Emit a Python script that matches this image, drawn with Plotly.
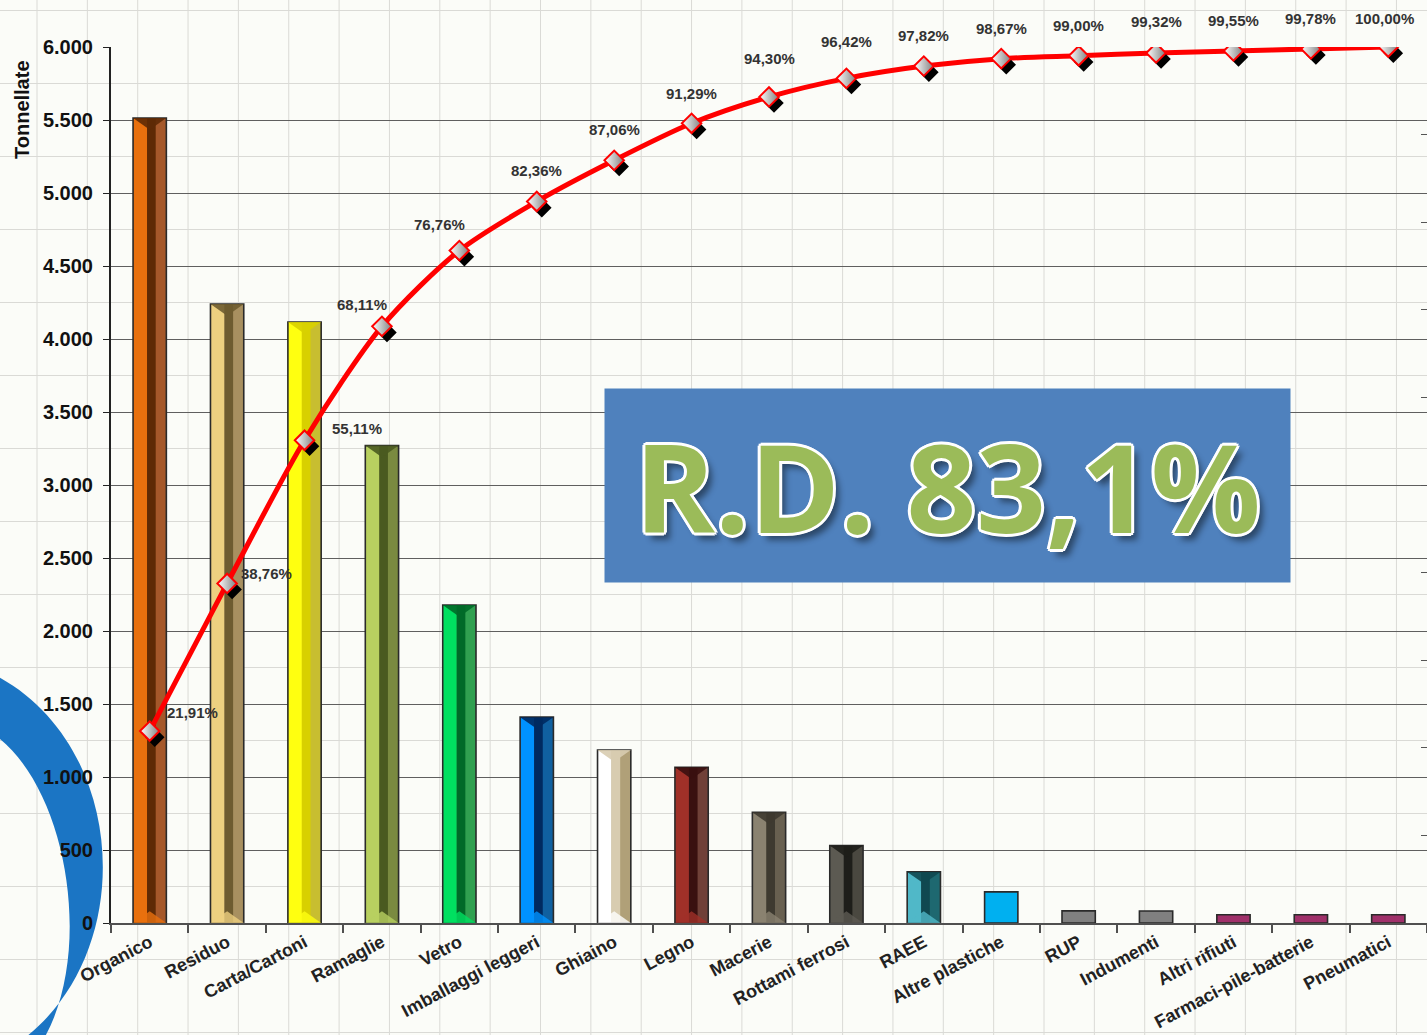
import plotly.graph_objects as go

# ---------------- data ----------------
categories = ["Organico", "Residuo", "Carta/Cartoni", "Ramaglie", "Vetro",
              "Imballaggi leggeri", "Ghiaino", "Legno", "Macerie", "Rottami ferrosi",
              "RAEE", "Altre plastiche", "RUP", "Indumenti", "Altri rifiuti",
              "Farmaci-pile-batterie", "Pneumatici"]
tonnellate = [5514, 4240, 4116, 3270, 2178, 1410, 1185, 1066, 758, 530,
              350, 213, 83, 82, 57, 57, 56]
cum_pct = [21.91, 38.76, 55.11, 68.11, 76.76, 82.36, 87.06, 91.29, 94.30,
           96.42, 97.82, 98.67, 99.00, 99.32, 99.55, 99.78, 100.00]
y_title = "Tonnellate"
rd_label = "R.D. 83,1%"

# ---------------- styles ----------------
col_light = ["#E8700E", "#EDD080", "#FFFF10", "#B8D060", "#00E060", "#0092FF",
             "#FFFFFF", "#A03028", "#8A8270", "#5C5A52", "#50B8C8", "#00B0F0",
             "#808080", "#808080", "#A0306A", "#A0306A", "#A0306A"]
col_dark = ["#5E2A05", "#6E5C30", "#D8D000", "#4A5A20", "#006A28", "#002A60",
            "#D8CCB0", "#3A1010", "#3E3A30", "#1E1E1A", "#104850", "#00B0F0",
            "#808080", "#808080", "#A0306A", "#A0306A", "#A0306A"]
col_right = ["#A5582A", "#A89060", "#C8BE30", "#7A8A40", "#30A050", "#1060A0",
             "#B0A078", "#704038", "#686050", "#4A4840", "#1E6870", "#00B0F0",
             "#808080", "#808080", "#A0306A", "#A0306A", "#A0306A"]
bevel = [True] * 11 + [False] * 6

W, H = 1427, 1035
ML, MR, MT, MB = 111, 0, 47, 112
PW, PH = W - ML - MR, H - MT - MB
YMAX = 6000
BW = 0.43
BEV = 80  # bevel depth in data units


def px(X):
    return (X - ML) / PW


def py(Y):
    return (H - MB - Y) / PH


fig = go.Figure()
idx = list(range(len(categories)))

# base bar (right face colour)
fig.add_trace(go.Bar(x=categories, y=tonnellate, width=BW, offset=-BW / 2,
                     marker=dict(color=col_right, line=dict(width=0)),
                     hoverinfo="skip", showlegend=False))
# light left face
fig.add_trace(go.Bar(x=categories, y=tonnellate, width=BW * 0.42, offset=-BW / 2,
                     marker=dict(color=col_light, line=dict(width=0)),
                     hoverinfo="skip", showlegend=False))
# dark stripe
fig.add_trace(go.Bar(x=categories, y=tonnellate, width=BW * 0.26, offset=-BW / 2 + BW * 0.42,
                     marker=dict(color=col_dark, line=dict(width=0)),
                     hoverinfo="skip", showlegend=False))
# outline
fig.add_trace(go.Bar(x=categories, y=tonnellate, width=BW, offset=-BW / 2,
                     marker=dict(color="rgba(0,0,0,0)", line=dict(width=1.6, color="#2a2a2a")),
                     hovertemplate="%{x}: %{y}<extra></extra>", showlegend=False))

# cumulative line
fig.add_trace(go.Scatter(x=idx, y=cum_pct, xaxis="x2", yaxis="y2", mode="lines",
                         line=dict(color="#FF0000", width=5, shape="spline", smoothing=0.8),
                         hoverinfo="skip", showlegend=False))
# marker shadows
fig.add_trace(go.Scatter(x=[i + 0.065 for i in idx], y=[v - 0.7 for v in cum_pct],
                         xaxis="x2", yaxis="y2", mode="markers",
                         marker=dict(symbol="diamond", size=15, color="#000000"),
                         hoverinfo="skip", showlegend=False))
# markers
fig.add_trace(go.Scatter(x=idx, y=cum_pct, xaxis="x2", yaxis="y2", mode="markers",
                         marker=dict(symbol="diamond", size=15, color="#FFFFFF",
                                     gradient=dict(type="horizontal", color="#808080"),
                                     line=dict(color="#FF0000", width=2)),
                         hovertemplate="%{y:.2f}%<extra></extra>", showlegend=False))

shapes = []
# background paper grid
grid_col = "#DADAD6"
k = 0
while 37 + 50.35 * k <= W:
    X = 37 + 50.35 * k
    shapes.append(dict(type="line", xref="paper", yref="paper", x0=px(X), x1=px(X),
                       y0=py(H + 5), y1=py(-5), line=dict(color=grid_col, width=1), layer="below"))
    k += 1
v = -750
while v <= 6250:
    shapes.append(dict(type="line", xref="paper", yref="paper", x0=px(-5), x1=px(W + 5),
                       y0=v / YMAX, y1=v / YMAX, line=dict(color=grid_col, width=1), layer="below"))
    v += 500

# blue swoosh decoration
pts_outer = [(-5, 675), (130, 745), (140, 960), (15, 1045)]
pts_inner = [(40, 1045), (95, 960), (70, 790), (-5, 735)]


def P(p):
    return f"{px(p[0]):.5f},{py(p[1]):.5f}"


path = (f"M{P(pts_outer[0])} C{P(pts_outer[1])} {P(pts_outer[2])} {P(pts_outer[3])} "
        f"L{P(pts_inner[0])} C{P(pts_inner[1])} {P(pts_inner[2])} {P(pts_inner[3])} Z")
shapes.append(dict(type="path", xref="paper", yref="paper", path=path,
                   fillcolor="#1B75C4", line=dict(width=0), layer="below"))

# bevel triangles on top / bottom of 3D bars
for i, val in enumerate(tonnellate):
    if not bevel[i]:
        continue
    d = min(BEV, val * 0.25)
    top = f"M{i - BW / 2},{val} L{i + BW / 2},{val} L{i},{val - d} Z"
    bot = f"M{i - BW / 2},0 L{i + BW / 2},0 L{i},{d} Z"
    shapes.append(dict(type="path", xref="x2", yref="y", path=top,
                       fillcolor=col_dark[i], line=dict(width=0), opacity=0.9, layer="above"))
    shapes.append(dict(type="path", xref="x2", yref="y", path=bot,
                       fillcolor=col_light[i], line=dict(width=0), opacity=0.8, layer="above"))

# percent labels
lab_dx = [15, 12, 25, -20, -20] + [0] * 11 + [-4]
lab_dy = [19, 10, 12, 22, 26, 31, 31, 30, 38, 37, 31, 30, 30, 31, 30, 30, 29]
lab_anchor = ["left", "left", "left"] + ["center"] * 14
annotations = []
for i, c in enumerate(cum_pct):
    annotations.append(dict(x=i, y=c, xref="x2", yref="y2", showarrow=False,
                            text=f"{c:.2f}".replace(".", ",") + "%",
                            xanchor=lab_anchor[i], yanchor="middle",
                            xshift=lab_dx[i], yshift=lab_dy[i],
                            font=dict(family="Liberation Sans", size=15, color="#333333",
                                      weight="bold")))

annotations.append(dict(x=px(22), y=py(110), xref="paper", yref="paper", text=y_title,
                        showarrow=False, textangle=-90, xanchor="center", yanchor="middle",
                        font=dict(family="Liberation Sans", size=20, color="#111111", weight="bold")))

annotations.append(dict(x=px(604), y=py(388), xref="paper", yref="paper", text=rd_label,
                        showarrow=False, xanchor="left", yanchor="top",
                        width=685, height=193, borderpad=0, bgcolor="#4F81BD",
                        align="center", valign="middle",
                        font=dict(family="Open Sans", size=122, color="#9BBB59", weight="bold",
                                  shadow="3px 0 0 #fff, -3px 0 0 #fff, 0 3px 0 #fff, 0 -3px 0 #fff, "
                                         "2px 2px 0 #fff, -2px -2px 0 #fff, 2px -2px 0 #fff, -2px 2px 0 #fff, "
                                         "6px 7px 6px rgba(0,0,0,0.45)")))

fig.update_layout(
    width=W, height=H,
    margin=dict(l=ML, r=MR, t=MT, b=MB, autoexpand=False),
    paper_bgcolor="#FBFCF8", plot_bgcolor="rgba(0,0,0,0)",
    barmode="overlay",
    separators=",.",
    showlegend=False,
    shapes=shapes,
    annotations=annotations,
    xaxis=dict(type="category", range=[-0.5, 16.5], showline=True, linecolor="#505050",
               linewidth=2, ticks="outside", tickson="boundaries", ticklen=8,
               tickcolor="#505050", tickwidth=1.5, tickangle=-28, showgrid=False,
               tickfont=dict(family="Liberation Sans", size=18, color="#222222", weight="bold")),
    yaxis=dict(range=[0, YMAX], dtick=500, tickformat=",", showline=True, linecolor="#222222",
               linewidth=2, ticks="outside", ticklen=6, tickcolor="#222222", ticklabelstandoff=6,
               showgrid=True, gridcolor="#5F5F5F", gridwidth=1.3, zeroline=False,
               tickfont=dict(family="Liberation Sans", size=20, color="#111111", weight="bold")),
    xaxis2=dict(overlaying="x", range=[-0.5, 16.5], visible=False),
    yaxis2=dict(overlaying="y", side="right", range=[0, 100], dtick=10, showgrid=False,
                zeroline=False, ticks="inside", ticklen=6, tickcolor="#555555",
                showticklabels=False, showline=False),
)

fig.write_html("out.html", config={"displayModeBar": False},
               post_script="document.body.style.margin='0';document.body.style.overflow='hidden';")
